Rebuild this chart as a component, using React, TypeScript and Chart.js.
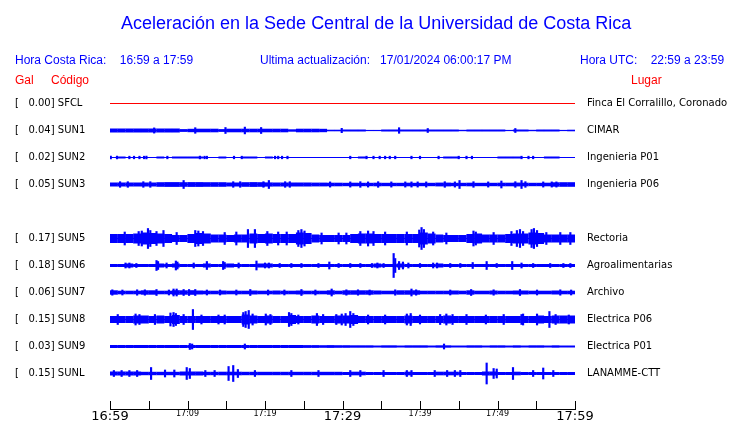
import React, { useEffect, useRef } from "react";
import { Chart, registerables } from "chart.js";

Chart.register(...registerables);

// ---------------- data ----------------
const MINUTES = 60;
const TIME_LABELS = ["16:59", "17:09", "17:19", "17:29", "17:39", "17:49", "17:59"];
const CODES = ["SFCL", "SUN1", "SUN2", "SUN3", "", "SUN5", "SUN6", "SUN7", "SUN8", "SUN9", "SUNL"];
const GAL = [0.0, 0.04, 0.02, 0.05, null, 0.17, 0.18, 0.06, 0.15, 0.03, 0.15];
const PLACES = [
  "Finca El Corralillo, Coronado",
  "CIMAR",
  "Ingenieria P01",
  "Ingenieria P06",
  "",
  "Rectoria",
  "Agroalimentarias",
  "Archivo",
  "Electrica P06",
  "Electrica P01",
  "LANAMME-CTT",
];

// half-height of the solid trace band, one value per minute
const CORE_SUN1 = [
  2.0, 2.0, 2.0, 2.0, 2.0, 2.0, 2.0, 2.0, 2.0, 1.4,
  1.7, 1.8, 1.8, 1.8, 1.4, 1.8, 1.8, 1.8, 1.8, 1.8,
  1.8, 1.8, 1.8, 1.2, 1.8, 1.8, 1.8, 1.7, 0.8, 0.8,
  1.0, 1.0, 1.0, 0.6, 0.6, 1.0, 1.0, 1.0, 1.0, 1.0,
  1.0, 1.0, 1.0, 1.0, 1.0, 0.7, 1.0, 1.0, 1.0, 1.0,
  1.0, 0.6, 1.0, 1.0, 0.7, 1.0, 1.0, 1.0, 0.6, 0.8,
];
const CORE_SUN2 = [
  0.5, 1.0, 0.5, 0.5, 0.5, 0.5, 1.0, 0.5, 1.0, 1.0,
  1.0, 1.0, 0.5, 0.5, 1.0, 0.5, 0.5, 1.0, 1.0, 0.5,
  1.0, 0.5, 0.5, 0.5, 0.5, 0.5, 0.5, 0.5, 0.5, 0.5,
  0.5, 0.5, 1.0, 0.5, 0.5, 0.5, 0.5, 0.5, 0.5, 0.5,
  0.5, 0.5, 0.5, 1.0, 1.0, 0.5, 0.5, 0.5, 0.5, 0.5,
  1.0, 1.0, 1.0, 0.5, 0.5, 0.5, 1.0, 1.0, 0.5, 0.5,
];
const CORE_SUN3 = [
  2.0, 2.0, 2.0, 2.0, 2.0, 2.0, 2.3, 2.4, 2.4, 2.3,
  2.4, 2.4, 2.3, 2.3, 2.3, 2.0, 2.0, 2.3, 2.4, 2.3,
  2.1, 2.0, 2.0, 2.0, 2.0, 2.0, 1.9, 1.9, 1.8, 1.8,
  1.7, 1.8, 1.7, 1.7, 1.8, 1.7, 1.7, 1.7, 1.8, 1.7,
  1.7, 1.7, 1.9, 1.9, 1.7, 1.7, 1.8, 1.7, 1.7, 1.7,
  1.8, 1.8, 1.9, 1.8, 1.7, 1.7, 1.8, 2.2, 2.3, 2.3,
];
const CORE_SUN5 = [
  4.5, 4.5, 4.5, 5, 6, 5.5, 5, 4.5, 3.5, 3.5,
  4.5, 5.5, 5, 4, 4, 3.5, 4, 4, 5, 4.5,
  5, 4.5, 4.5, 4.5, 6, 5.5, 4, 3.5, 3.5, 3.5,
  3.5, 4.5, 5, 5, 4.5, 4.5, 4.5, 4.5, 4.5, 4.5,
  6, 5, 4, 3.5, 3.5, 3.5, 4.5, 5, 4, 4,
  4, 4.5, 5, 5, 6, 5.5, 4, 4, 4, 4,
];
const CORE_SUN6 = [
  1.5, 1.5, 2, 1.5, 1.5, 1.5, 2, 1.5, 2, 1.5,
  1.5, 1.5, 2, 1.5, 1.5, 2, 1.5, 1.5, 1.5, 2,
  2, 1.5, 1.5, 1.5, 1.5, 1.5, 1.5, 1.5, 1.5, 1.5,
  1.5, 1.5, 1.5, 1.5, 2, 1.5, 1.5, 2, 1.5, 1.5,
  1.5, 1.5, 2, 1.5, 1.5, 1.5, 1.5, 1.5, 1.5, 1.5,
  1.5, 1.5, 1.5, 1.5, 1.5, 1.5, 1.5, 1.5, 1.5, 1.5,
];
const CORE_SUN7 = [
  2.2, 1.8, 1.8, 1.8, 2.2, 2.2, 1.8, 1.8, 2.3, 2.2,
  2.3, 2.0, 1.8, 1.8, 2.0, 1.8, 1.8, 1.8, 2.0, 1.8,
  1.8, 2.0, 1.8, 1.8, 2.0, 1.8, 1.8, 1.8, 2.2, 1.8,
  2.2, 2.2, 2.2, 2.2, 2.0, 1.8, 1.8, 2.2, 2.2, 2.2,
  1.8, 1.8, 1.8, 1.8, 2.0, 1.8, 2.2, 1.8, 1.8, 2.0,
  1.8, 1.8, 2.0, 2.0, 1.8, 1.8, 1.8, 2.0, 1.8, 1.8,
];
const CORE_SUN8 = [
  3.5, 3.5, 3.5, 4, 4, 3.5, 4, 3.5, 4.5, 3.5,
  3.5, 3.5, 3.5, 3.5, 3.5, 3.5, 3.5, 5, 4, 3.5,
  4, 3.5, 3.5, 4.5, 3.5, 3.5, 4, 3.5, 3.5, 4,
  4, 4.5, 3.5, 3.5, 3.5, 3.5, 3.5, 3.5, 4, 3.5,
  3.5, 3.5, 3.5, 4, 3.5, 3.5, 3.5, 3.5, 3.5, 3.5,
  3.5, 3.5, 3.5, 3.5, 3.5, 4, 3.5, 4, 4, 4,
];
const CORE_SUN9 = [
  1.5, 1.5, 1.5, 1.5, 1.5, 1.5, 1.5, 1.5, 1.5, 1.5,
  1.5, 1.5, 1.5, 1.5, 1.5, 1.5, 1.5, 1.5, 1.5, 1.5,
  1.5, 1.5, 1.5, 1.5, 1.5, 1.4, 1.4, 1.3, 1.4, 1.3,
  1.3, 1.2, 1.2, 1.2, 1.0, 1.2, 1.2, 1.0, 1.2, 1.2,
  1.2, 1.0, 1.2, 1.2, 1.0, 1.0, 1.2, 1.2, 1.0, 1.2,
  1.2, 1.0, 1.2, 1.0, 1.2, 1.2, 1.0, 1.2, 1.0, 1.0,
];
const CORE_SUNL = [
  2, 2, 2, 2, 1.7, 1.7, 1.7, 1.7, 1.7, 2,
  2, 2, 1.7, 1.7, 1.8, 1.8, 1.8, 1.7, 1.7, 1.7,
  1.7, 1.7, 1.7, 1.7, 1.7, 1.7, 1.7, 1.7, 1.7, 1.7,
  1.5, 1.8, 1.8, 1.5, 1.5, 1.5, 1.5, 1.5, 1.8, 1.5,
  1.5, 1.5, 1.8, 1.8, 1.8, 1.5, 1.5, 1.5, 2, 2,
  1.5, 1.5, 1.8, 1.5, 1.5, 1.5, 1.5, 1.5, 1.5, 1.5,
];

// isolated peaks: [minute, half-height]
const SPIKES_SUN1 = [[5.7, 2.6], [11, 2.8], [14.9, 3], [17.4, 3.4], [19.5, 3], [29.9, 2.2], [37.3, 2.8], [41, 2.0], [52.3, 2.0]];
const SPIKES_SUN2 = [
  [0.1, 1.4], [0.9, 1.4], [2.5, 1.3], [3.1, 1.3], [3.8, 1.3], [4.4, 1.3], [4.7, 1.4], [7.4, 1.3], [11.6, 1.4], [12.2, 1.3],
  [12.5, 1.3], [16.0, 1.3], [17.0, 1.3], [21.3, 1.3], [21.7, 1.3], [22.2, 1.3], [22.9, 1.3], [31.0, 1.3], [33.1, 1.3], [34.0, 1.3],
  [34.8, 1.3], [35.5, 1.3], [36.1, 1.3], [36.8, 1.3], [38.9, 1.3], [40.0, 1.3], [42.4, 1.3], [45.0, 1.3], [46.0, 1.3], [46.7, 1.3],
  [53.1, 1.3], [54.0, 1.3], [54.6, 1.3],
];
const SPIKES_SUN3 = [
  [1.3, 2.8], [2.3, 2.8], [4.3, 2.8], [5.2, 2.8], [9.5, 4], [15.9, 2.8], [16.8, 2.8], [19.8, 2.8], [20.5, 4], [22.6, 2.8],
  [23.2, 2.8], [28.4, 2.6], [31.0, 2.6], [32.3, 2.8], [33.3, 2.6], [34.6, 2.8], [36.3, 2.6], [38.1, 2.6], [38.9, 2.6], [39.7, 2.6],
  [40.8, 2.6], [43.2, 2.8], [44.5, 2.6], [45.1, 4], [46.9, 2.8], [48.8, 2.6], [50.5, 3.5], [52.3, 2.8], [53.1, 4], [53.6, 2.8],
  [55.9, 2.6], [57.0, 2.6], [57.6, 2.6],
];
const SPIKES_SUN5 = [
  [1.9, 6.5], [3.7, 7], [4.1, 7.5], [4.9, 10], [5.2, 8], [6.0, 7], [6.9, 8], [8.6, 6], [11.0, 8], [11.4, 7.5],
  [12.0, 7], [14.8, 6], [16.3, 6.5], [17.8, 9], [18.7, 9], [20.3, 7], [21.7, 6.5], [22.8, 6.5], [24.3, 8], [24.7, 9],
  [25.1, 7.5], [27.3, 5.5], [29.5, 5.5], [30.5, 5.5], [32.3, 7], [33.3, 7.5], [34.0, 7], [35.5, 6.5], [38.3, 6.5], [39.9, 8.5],
  [40.2, 11], [40.5, 9], [41.7, 6.5], [43.4, 5.5], [46.9, 7.5], [47.2, 6.5], [49.5, 6], [51.8, 7], [52.5, 8], [52.9, 9],
  [53.3, 7], [54.4, 9], [54.7, 10], [55.1, 8], [56.3, 6], [58.1, 6], [59.4, 6],
];
const SPIKES_SUN6 = [
  [2.0, 2.5], [2.5, 2.5], [3.4, 2], [6.0, 5], [6.2, 4], [7.3, 2.5], [8.5, 4.5], [8.7, 3.5], [10.8, 2.5], [12.5, 4],
  [14.6, 4], [14.8, 3], [16.6, 2.5], [18.9, 4.5], [20.0, 2.5], [20.5, 2.5], [21.9, 2], [23.4, 2], [24.7, 2], [26.9, 2],
  [28.3, 3.5], [29.5, 2], [31.0, 2], [32.3, 2], [33.8, 2], [34.5, 2.5], [35.3, 2], [36.6, 12], [36.8, 7], [37.3, 4],
  [37.8, 3.5], [38.5, 2.5], [40.0, 2], [41.7, 2.5], [42.2, 2.5], [43.9, 2], [45.2, 2], [46.8, 3], [48.6, 4], [49.9, 2],
  [51.9, 4], [53.1, 2.5], [54.6, 2], [56.8, 2], [58.5, 2], [59.4, 2],
];
const SPIKES_SUN7 = [
  [0.3, 2.7], [1.6, 2.5], [3.5, 2.7], [4.5, 2.7], [6.0, 3], [7.6, 2.5], [8.2, 3.5], [8.6, 3.5], [9.5, 3], [10.2, 3],
  [11.0, 3], [12.5, 2.5], [14.2, 2.5], [16.3, 2.5], [18.1, 3], [20.4, 2.5], [22.5, 2.5], [24.7, 3], [26.5, 2.5], [28.6, 3.5],
  [30.5, 2.7], [32.0, 2.7], [33.5, 2.5], [36.8, 2.7], [38.9, 3.5], [39.5, 2.7], [43.9, 2.5], [46.6, 3], [49.5, 2.7], [52.9, 3],
  [55.1, 2.5], [58.1, 2.7], [59.5, 2.5],
];
const SPIKES_SUN8 = [
  [1.0, 5], [3.3, 5.5], [3.8, 5], [5.8, 5], [7.8, 6.5], [8.2, 7], [8.5, 6], [9.5, 5], [10.7, 10], [11.8, 4.5],
  [14.0, 4.5], [14.8, 4.5], [17.2, 7], [17.5, 8], [17.9, 9], [18.4, 5.5], [20.1, 5.5], [20.7, 5], [23.1, 7], [23.4, 6],
  [24.3, 4.5], [26.7, 6], [27.5, 5], [29.2, 5], [29.9, 5.5], [30.4, 6], [31.0, 8], [31.4, 6], [33.3, 4.5], [35.5, 4.5],
  [38.3, 5.5], [38.8, 6], [40.0, 4.5], [42.6, 5], [43.4, 5.5], [44.2, 5], [46.0, 5], [48.5, 4.5], [50.8, 5], [53.1, 5],
  [53.3, 5.5], [55.1, 5.5], [56.7, 8], [57.5, 5], [59.2, 4.5],
];
const SPIKES_SUN9 = [[10.3, 3], [10.6, 2.5], [17.4, 2.5], [43.1, 2.5]];
const SPIKES_SUNL = [
  [0.5, 3], [1.5, 3], [2.5, 3], [3.5, 3], [5.3, 6], [7.1, 3.5], [8.3, 3.5], [9.9, 6], [10.3, 5], [12.3, 3],
  [13.5, 3], [15.3, 7], [15.9, 8], [16.5, 4], [18.7, 3], [23.4, 3], [26.9, 3], [31.0, 3], [32.3, 3], [35.3, 3],
  [38.3, 3], [38.9, 3], [41.9, 3], [43.5, 3], [44.5, 3], [45.2, 3], [48.6, 10.5], [49.5, 5], [49.9, 4.5], [52.0, 6],
  [54.6, 3], [55.9, 5.5], [57.2, 3],
];

// ---------------- styling / layout ----------------
const BLUE = "#0000ff";
const RED = "#ff0000";
const ROW_STEP = 27;
const Y_MIN = -35.5;
const Y_MAX = Y_MIN + 319;

const CORES: Record<string, number[] | null> = {
  SFCL: null, SUN1: CORE_SUN1, SUN2: CORE_SUN2, SUN3: CORE_SUN3, SUN5: CORE_SUN5,
  SUN6: CORE_SUN6, SUN7: CORE_SUN7, SUN8: CORE_SUN8, SUN9: CORE_SUN9, SUNL: CORE_SUNL,
};
const SPIKES: Record<string, number[][] | null> = {
  SFCL: null, SUN1: SPIKES_SUN1, SUN2: SPIKES_SUN2, SUN3: SPIKES_SUN3, SUN5: SPIKES_SUN5,
  SUN6: SPIKES_SUN6, SUN7: SPIKES_SUN7, SUN8: SPIKES_SUN8, SUN9: SPIKES_SUN9, SUNL: SPIKES_SUNL,
};

const tickMarks = {
  id: "tickMarks",
  afterDraw(chart: any) {
    const s = chart.scales.x;
    const ctx = chart.ctx;
    const b = chart.chartArea.bottom;
    ctx.save();
    ctx.strokeStyle = "#000";
    ctx.lineWidth = 1;
    s.ticks.forEach((t: any) => {
      const px = Math.round(s.getPixelForValue(t.value)) + 0.5;
      ctx.beginPath();
      ctx.moveTo(px, b + 0.5);
      ctx.lineTo(px, b - 8);
      ctx.stroke();
    });
    ctx.restore();
  },
};

const noPad = (s: any) => {
  s.paddingTop = 0;
  s.paddingBottom = 0;
};

export default function App() {
  const ref = useRef<HTMLCanvasElement>(null);

  useEffect(() => {
    const canvas = ref.current;
    if (!canvas) return;
    Chart.defaults.font.family = "'DejaVu Sans', sans-serif";

    const rows = CODES.map((code, r) => ({
      code,
      r,
      center: (CODES.length - 1 - r) * ROW_STEP,
    })).filter((rw) => rw.code !== "");

    const datasets: any[] = [];
    rows.forEach((rw) => {
      const c = rw.center;
      const color = rw.code === "SFCL" ? RED : BLUE;
      datasets.push({
        type: "line",
        data: [{ x: 0, y: c }, { x: MINUTES, y: c }],
        borderColor: color,
        borderWidth: 1,
        pointRadius: 0,
        xAxisID: "x",
        yAxisID: "y",
        order: 3,
      });
      const core = CORES[rw.code];
      if (core) {
        datasets.push({
          type: "bar",
          data: core.map((a, m) => ({ x: m + 0.5, y: [c - a, c + a] })),
          backgroundColor: BLUE,
          borderWidth: 0,
          grouped: false,
          barPercentage: 1.02,
          categoryPercentage: 1,
          xAxisID: "x",
          yAxisID: "y",
          order: 2,
        });
      }
      const sp = SPIKES[rw.code];
      if (sp) {
        datasets.push({
          type: "bar",
          data: sp.map(([m, a]) => ({ x: m, y: [c - a, c + a] })),
          backgroundColor: BLUE,
          borderWidth: 0,
          grouped: false,
          barThickness: 1.5,
          xAxisID: "xs",
          yAxisID: "y",
          order: 1,
        });
      }
    });

    const sortedRows = [...rows].sort((a, b) => a.center - b.center);
    const labelFor = (v: number, left: boolean) => {
      const rw = rows.find((x) => x.center === v);
      if (!rw) return "";
      if (left) return `[   ${(GAL[rw.r] as number).toFixed(2)}] ${rw.code}`;
      return PLACES[rw.r];
    };

    const chart = new Chart(canvas, {
      type: "bar",
      data: { datasets },
      plugins: [tickMarks],
      options: {
        animation: false,
        responsive: false,
        events: [],
        layout: { padding: { left: 15, top: 90, right: 0, bottom: 0 } },
        plugins: { legend: { display: false }, tooltip: { enabled: false }, title: { display: false } },
        scales: {
          x: {
            type: "linear",
            position: "bottom",
            min: 0,
            max: MINUTES,
            offset: false,
            grid: { display: false, offset: false, drawTicks: false },
            border: { display: true, color: "#000", width: 1 },
            afterFit: (s: any) => {
              s.height = 14;
              noPad(s);
            },
            ticks: {
              stepSize: 5,
              autoSkip: false,
              maxRotation: 0,
              minRotation: 0,
              padding: 0,
              color: "#000",
              font: (ctx: any) => ({
                family: "'DejaVu Sans', sans-serif",
                size: ctx.tick && ctx.tick.value % 30 === 0 ? 13 : 8,
              }),
              callback: (v: any) => (Number(v) % 10 === 0 ? TIME_LABELS[Number(v) / 10] : ""),
            },
          },
          xs: {
            type: "linear",
            display: false,
            min: 0,
            max: MINUTES,
            offset: false,
          },
          y: {
            type: "linear",
            position: "left",
            min: Y_MIN,
            max: Y_MAX,
            grid: { display: false, drawTicks: false },
            border: { display: false },
            afterBuildTicks: (s: any) => {
              s.ticks = sortedRows.map((rw) => ({ value: rw.center }));
            },
            afterFit: (s: any) => {
              s.width = 95;
              noPad(s);
            },
            ticks: {
              autoSkip: false,
              crossAlign: "far",
              padding: 0,
              color: "#000",
              font: { size: 10 },
              callback: (v: any) => labelFor(Number(v), true),
            },
          },
          yR: {
            type: "linear",
            position: "right",
            min: Y_MIN,
            max: Y_MAX,
            grid: { display: false, drawTicks: false },
            border: { display: false },
            afterBuildTicks: (s: any) => {
              s.ticks = sortedRows.map((rw) => ({ value: rw.center }));
            },
            afterFit: (s: any) => {
              s.width = 165;
              noPad(s);
            },
            ticks: {
              autoSkip: false,
              padding: 12,
              color: "#000",
              font: { size: 10 },
              callback: (v: any) => labelFor(Number(v), false),
            },
          },
        },
      } as any,
    });
    return () => chart.destroy();
  }, []);

  const hdr: React.CSSProperties = {
    position: "absolute",
    fontFamily: "'Liberation Sans', Arial, sans-serif",
    fontSize: 12,
    lineHeight: "12px",
    whiteSpace: "pre",
    color: BLUE,
  };

  return (
    <div style={{ position: "absolute", left: 0, top: 0, width: 740, height: 423, background: "#fff", overflow: "hidden" }}>
      <canvas ref={ref} width={740} height={423} style={{ position: "absolute", left: 0, top: 0 }} />
      <div style={{ ...hdr, left: 121, top: 14, fontSize: 18, lineHeight: "18px" }}>
        Aceleración en la Sede Central de la Universidad de Costa Rica
      </div>
      <div style={{ ...hdr, left: 15, top: 54 }}>{"Hora Costa Rica:    16:59 a 17:59"}</div>
      <div style={{ ...hdr, left: 260, top: 54 }}>{"Ultima actualización:   17/01/2024 06:00:17 PM"}</div>
      <div style={{ ...hdr, left: 580, top: 54 }}>{"Hora UTC:    22:59 a 23:59"}</div>
      <div style={{ ...hdr, left: 15, top: 74, color: RED }}>Gal</div>
      <div style={{ ...hdr, left: 51, top: 74, color: RED }}>Código</div>
      <div style={{ ...hdr, left: 631, top: 74, color: RED }}>Lugar</div>
    </div>
  );
}
